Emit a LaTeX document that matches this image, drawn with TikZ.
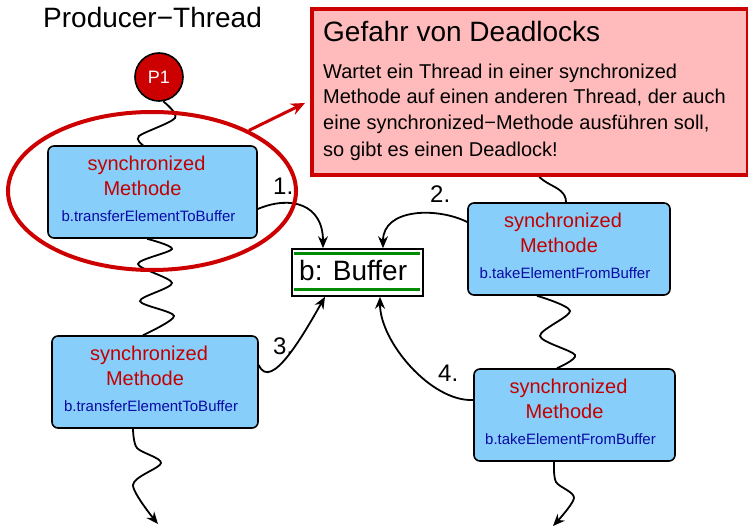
\documentclass[tikz,border=0pt]{standalone}
\usepackage{fontspec}
\setmainfont{Liberation Sans}
\usetikzlibrary{shapes.geometric,arrows.meta,calc}
\pgfdeclarelayer{bg}
\pgfsetlayers{bg,main}
\definecolor{skyfill}{RGB}{135,206,250}
\definecolor{darkred}{RGB}{204,0,0}
\definecolor{methred}{RGB}{195,0,0}
\definecolor{methblue}{RGB}{10,10,165}
\definecolor{warnfill}{RGB}{255,187,187}
\definecolor{bufgreen}{RGB}{0,140,0}
\begin{document}
\begin{tikzpicture}[x=1pt,y=-1pt,
  methbox/.style={draw=black, line width=1.6pt, fill=skyfill, rounded corners=6pt,
                  minimum height=92pt, inner sep=0pt},
  syn/.style={anchor=base, text=methred, font=\fontsize{20}{24}\selectfont, inner sep=0pt},
  mname/.style={anchor=base, text=methblue, font=\fontsize{15}{18}\selectfont, inner sep=0pt},
  wave/.style={line width=1.8pt, black},
  wavetip/.style={wave, -{Stealth[length=12pt,width=10pt]}},
  flow/.style={line width=1.8pt, -{Stealth[length=12pt,width=10pt]}},
  stepnum/.style={anchor=base west, font=\fontsize{24}{28}\selectfont, inner sep=0pt},
  body/.style={anchor=base west, font=\fontsize{20}{24}\selectfont, inner sep=0pt}]

\useasboundingbox (0,0) rectangle (748,529);

% thread title and start circle
\node[anchor=base west, font=\fontsize{28}{32}\selectfont, inner sep=0pt] (title) at (43,28) {Producer−Thread};
\node[circle, draw=black, line width=1.6pt, fill=darkred, minimum size=48pt, inner sep=0pt,
      text=white, font=\fontsize{18}{20}\selectfont] (p1) at (159,77) {P1};

% method boxes
\node[methbox, minimum width=209pt] (m1) at (152.5,192) {};
\node[methbox, minimum width=202pt] (m2) at (569,249) {};
\node[methbox, minimum width=206pt] (m3) at (155,382) {};
\node[methbox, minimum width=201pt] (m4) at (574.5,415) {};
\foreach \b/\m in {m1/transferElementToBuffer, m2/takeElementFromBuffer,
                   m3/transferElementToBuffer, m4/takeElementFromBuffer} {
  \node[syn] (\b-s) at ($(\b.north)+(-6,25.5)$) {synchronized};
  \node[syn] (\b-t) at ($(\b.north)+(-10,50)$) {Methode};
  \node[mname] (\b-n) at ($(\b.north)+(-4,76)$) {b.\m};
}

% shared buffer
\node[draw=black, line width=1.6pt, fill=white, minimum width=131pt, minimum height=47pt,
      inner sep=0pt] (buf) at (357.5,272.5) {};
\draw[bufgreen, line width=3pt] ($(buf.north west)+(3,5)$) -- ($(buf.north east)+(-4,5)$);
\draw[bufgreen, line width=3pt] ($(buf.south west)+(3,-7)$) -- ($(buf.south east)+(-4,-7)$);
\node[anchor=base west, font=\fontsize{28}{32}\selectfont, inner sep=0pt] (buflabel) at (299,281) {b: Buffer};

% step numbers
\node[stepnum] (n1) at (273,195) {1.};
\node[stepnum] (n2) at (430,203) {2.};
\node[stepnum] (n3) at (273,355) {3.};
\node[stepnum] (n4) at (438,382) {4.};

% warning callout
\node[draw=darkred, line width=4pt, fill=warnfill, minimum width=436pt, minimum height=166pt,
      inner sep=0pt, anchor=north west] (warn) at (310,7) {};
\node[anchor=base west, font=\fontsize{28}{32}\selectfont, inner sep=0pt] (wtitle) at (323,41.5) {Gefahr von Deadlocks};
\node[body] (w1) at (323,78.3) {Wartet ein Thread in einer synchronized};
\node[body] (w2) at (323,104) {Methode auf einen anderen Thread, der auch};
\node[body] (w3) at (323,130) {eine synchronized−Methode ausführen soll,};
\node[body] (w4) at (323,156.5) {so gibt es einen Deadlock!};

% highlight ellipse and pointer
\node[draw=darkred, line width=4pt, ellipse, minimum width=288pt, minimum height=158pt,
      inner sep=0pt] (ell) at (152,191) {};
\draw[darkred, line width=3pt, -{Stealth[length=14pt,width=12pt]}] (ell.32) -- ($(warn.west)+(-5,11)$);

% free ends of the thread lines
\coordinate (m1top) at ($(m1.north)+(-9.5,0)$);
\coordinate (m1bot) at ($(m1.south)+(-5.5,0)$);
\coordinate (m3top) at ($(m3.north)+(-12,0)$);
\coordinate (m3bot) at ($(m3.south)+(-22,0)$);
\coordinate (m2top) at ($(m2.north)+(-3,0)$);
\coordinate (m2bot) at ($(m2.south)+(-32,0)$);
\coordinate (m4top) at ($(m4.north)+(-17.5,0)$);
\coordinate (m4bot) at ($(m4.south)+(-20.5,0)$);
\coordinate (cthread) at (533,160);
\coordinate (pend) at (158,524);
\coordinate (cend) at (553,526);

\begin{pgfonlayer}{bg}
  % producer thread
  \draw[wave] plot[smooth] coordinates {(p1.-80) (175,118) (139,136) (m1top)};
  \draw[wave] plot[smooth] coordinates {(m1bot) (172,249) (138,264) (172,283) (140,301) (174,316) (m3top)};
  \draw[wavetip] plot[smooth] coordinates {(m3bot) (137,448) (161,463) (133,485) (pend)};
  % consumer thread
  \draw[wave] (cthread) .. controls +(0,28) and +(0,-20) .. (m2top);
  \draw[wave] plot[smooth] coordinates {(m2bot) (570,311) (540,336) (575,355) (m4top)};
  \draw[wavetip] plot[smooth] coordinates {(m4bot) (556,482) (574,498) (cend)};
  % buffer accesses
  \draw[flow] ($(m1.east)+(0,17)$) .. controls +(33,-14) and +(0,-44) .. ($(buf.north)+(-34.5,0)$);
  \draw[flow] ($(m2.west)+(0,-27)$) .. controls +(-30,-15) and +(0,-40) .. ($(buf.north)+(25.5,0)$);
  \draw[flow] ($(m3.east)+(0,-17)$) .. controls +(12,28) and +(-20,35) .. ($(buf.south)+(-32.5,0)$);
  \draw[flow] ($(m4.west)+(0,-15)$) .. controls +(-42,2) and +(0,45) .. ($(buf.south)+(22.5,0)$);
\end{pgfonlayer}
\end{tikzpicture}
\end{document}
